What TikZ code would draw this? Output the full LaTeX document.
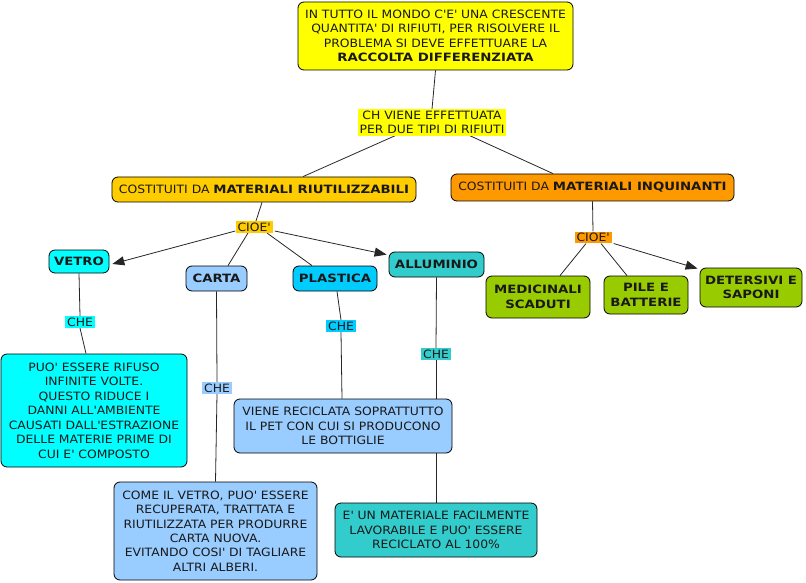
\documentclass[tikz,border=0pt]{standalone}
\usepackage{fontspec}
\setmainfont{DejaVu Sans}[FakeStretch=1.08, BoldFeatures={FakeStretch=1.16}]
\usetikzlibrary{arrows.meta,backgrounds}
\definecolor{cyel}{HTML}{FFFF00}
\definecolor{cgold}{HTML}{FFCC00}
\definecolor{corg}{HTML}{FF9900}
\definecolor{ccyan}{HTML}{00FFFF}
\definecolor{clblue}{HTML}{99CCFF}
\definecolor{csky}{HTML}{00CCFF}
\definecolor{cteal}{HTML}{33CCCC}
\definecolor{cgreen}{HTML}{99CC00}
\newcommand{\ap}{\textquotesingle}
\begin{document}
\begin{tikzpicture}[x=1bp,y=-1bp,
  every node/.style={font=\fontsize{11.5}{14.5}\selectfont, text=black!90},
  box/.style={draw=black, line width=0.8bp, rounded corners=6bp, align=center, inner sep=0pt},
  bbox/.style={box, font=\fontsize{11.5}{14.5}\selectfont\bfseries},
  lab/.style={inner xsep=2bp, inner ysep=1.5bp, align=center},
  conn/.style={line width=0.8bp, draw=black!85},
  arr/.style={conn, -{Triangle[length=12bp,width=9bp]}}]
\useasboundingbox (0,0) rectangle (806,583);

% main nodes
\node[box, fill=cyel, minimum width=275bp, minimum height=68bp] (top) at (435.5,36)
  {IN TUTTO IL MONDO C\ap E\ap{} UNA CRESCENTE\\QUANTITA\ap{} DI RIFIUTI, PER RISOLVERE IL\\PROBLEMA SI DEVE EFFETTUARE LA\\\textbf{RACCOLTA DIFFERENZIATA}};
\node[lab, fill=cyel] (ch) at (432,122.5) {CH VIENE EFFETTUATA\\PER DUE TIPI DI RIFIUTI};
\node[box, fill=cgold, minimum width=304bp, minimum height=25bp] (riut) at (264,189.5)
  {COSTITUITI DA \textbf{MATERIALI RIUTILIZZABILI}};
\node[box, fill=corg, minimum width=283bp, minimum height=27bp] (inq) at (592.5,187.5)
  {COSTITUITI DA \textbf{MATERIALI INQUINANTI}};
\node[lab, fill=cgold] (cioeA) at (254,227) {CIOE\ap};
\node[lab, fill=corg] (cioeB) at (593,237.5) {CIOE\ap};

\node[bbox, fill=ccyan, minimum width=60bp, minimum height=23bp] (vetro) at (79,261.5) {VETRO};
\node[bbox, fill=clblue, minimum width=61bp, minimum height=25bp] (carta) at (216.5,278.5) {CARTA};
\node[bbox, fill=csky, minimum width=84bp, minimum height=25bp] (plastica) at (335,278.5) {PLASTICA};
\node[bbox, fill=cteal, minimum width=95bp, minimum height=25bp] (allum) at (436.5,264.5) {ALLUMINIO};

\node[bbox, fill=cgreen, minimum width=104bp, minimum height=42bp] (medic) at (538,297) {MEDICINALI\\SCADUTI};
\node[bbox, fill=cgreen, minimum width=84bp, minimum height=38bp] (pile) at (646,295) {PILE E\\BATTERIE};
\node[bbox, fill=cgreen, minimum width=102bp, minimum height=39bp] (deters) at (751,287.5) {DETERSIVI E\\SAPONI};

\node[lab, fill=ccyan] (cheV) at (80,322) {CHE};
\node[lab, fill=clblue] (cheC) at (217,388) {CHE};
\node[lab, fill=csky] (cheP) at (341,326) {CHE};
\node[lab, fill=cteal] (cheA) at (436,354) {CHE};

\node[box, fill=ccyan, minimum width=186bp, minimum height=113bp] (vetrobox) at (94,410.5)
  {PUO\ap{} ESSERE RIFUSO\\INFINITE VOLTE.\\QUESTO RIDUCE I\\DANNI ALL\ap AMBIENTE\\CAUSATI DALL\ap ESTRAZIONE\\DELLE MATERIE PRIME DI\\CUI E\ap{} COMPOSTO};
\node[box, fill=clblue, minimum width=203bp, minimum height=98bp] (cartabox) at (215.5,531)
  {COME IL VETRO, PUO\ap{} ESSERE\\RECUPERATA, TRATTATA E\\RIUTILIZZATA PER PRODURRE\\CARTA NUOVA.\\EVITANDO COSI\ap{} DI TAGLIARE\\ALTRI ALBERI.};
\node[box, fill=clblue, minimum width=218bp, minimum height=54bp] (plasticabox) at (343,426)
  {VIENE RECICLATA SOPRATTUTTO\\IL PET CON CUI SI PRODUCONO\\LE BOTTIGLIE};
\node[box, fill=cteal, minimum width=202bp, minimum height=54bp] (allumbox) at (436,530)
  {E\ap{} UN MATERIALE FACILMENTE\\LAVORABILE E PUO\ap{} ESSERE\\RECICLATO AL 100\%};

\begin{scope}[on background layer]
\draw[conn] (top.south) -- (ch.north);
\draw[conn] ([xshift=-37bp]ch.south) -- ([xshift=39bp]riut.north);
\draw[conn] ([xshift=38bp]ch.south) -- ([xshift=-39.5bp]inq.north);
\draw[conn] ([xshift=-2bp]riut.south) -- ([xshift=2bp]cioeA.north);
\draw[conn] (inq.south) -- (cioeB.north);

\draw[arr, shorten >=2bp] ([yshift=-4bp]cioeA.west) -- ([xshift=1bp,yshift=-3bp]vetro.east);
\draw[conn] ([xshift=-6bp]cioeA.south) -- ([xshift=11.5bp]carta.north);
\draw[conn] ([xshift=13bp]cioeA.south) -- ([xshift=-23bp]plastica.north);
\draw[arr] ([xshift=2bp,yshift=-4bp]cioeA.east) -- ([xshift=-2bp,yshift=-3bp]allum.north west);

\draw[conn] ([xshift=-7bp]cioeB.south) -- ([xshift=22bp]medic.north);
\draw[conn] ([xshift=8bp]cioeB.south) -- ([xshift=-19bp]pile.north);
\draw[arr] ([xshift=2bp]cioeB.south east) -- ([xshift=-2bp,yshift=-1bp]deters.north west);

\draw[conn] (vetro.south) -- (cheV.north);
\draw[conn] (cheV.south) -- ([xshift=-8bp]vetrobox.north);
\draw[conn] (carta.south) -- (cheC.north);
\draw[conn] (cheC.south) -- (cartabox.north);
\draw[conn] ([xshift=2bp]plastica.south) -- (cheP.north);
\draw[conn] (cheP.south) -- ([xshift=-1bp]plasticabox.north);
\draw[conn] (allum.south) -- (cheA.north);
\draw[conn] (cheA.south) -- (allumbox.north);
\end{scope}
\end{tikzpicture}
\end{document}
